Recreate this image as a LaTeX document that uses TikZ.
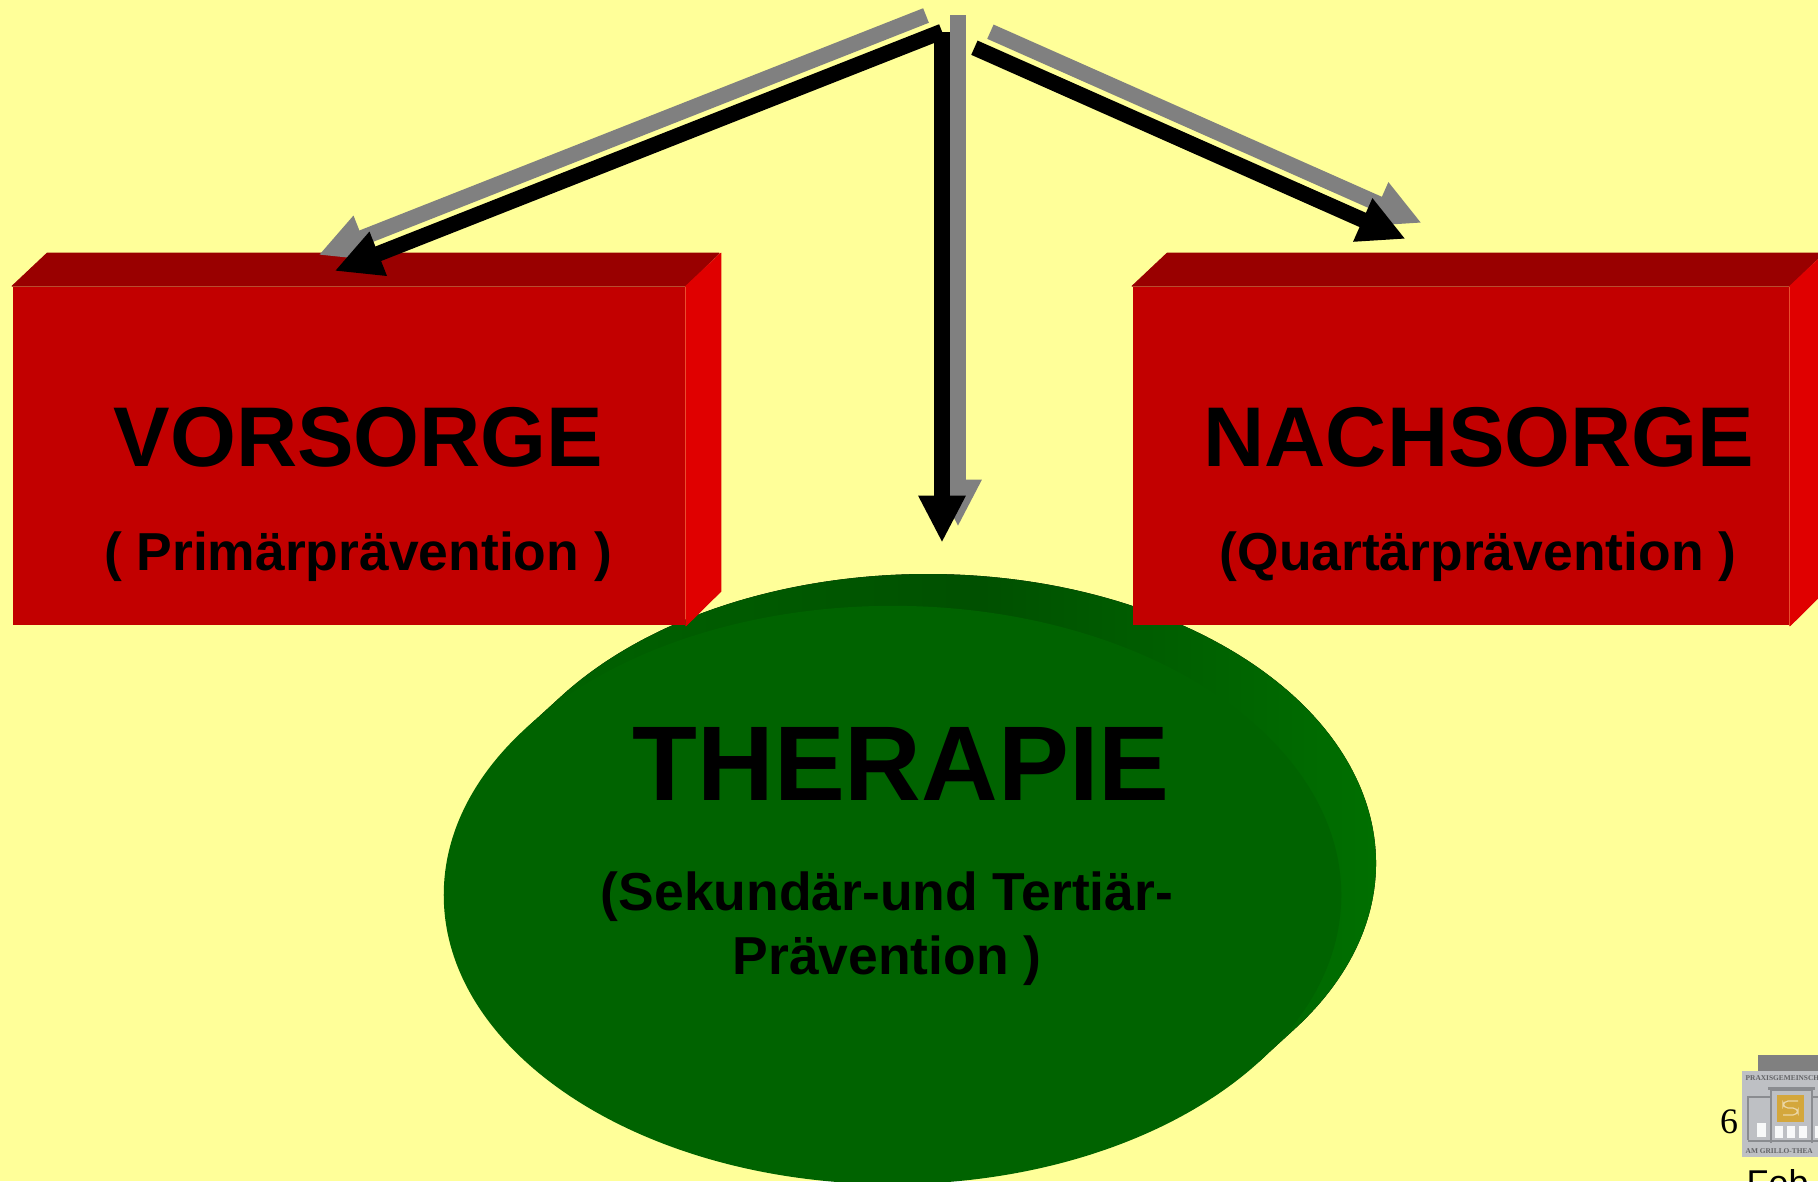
\documentclass[tikz,border=0pt]{standalone}
\usepackage{xcolor}
\usepackage{fontspec}
\setmainfont{Liberation Sans}
\newfontfamily\logofont{Liberation Serif}
\usetikzlibrary{arrows.meta,shapes.geometric}
\definecolor{paper}{HTML}{FFFF99}
\definecolor{frontred}{HTML}{C20000}
\definecolor{topred}{HTML}{990000}
\definecolor{sidered}{HTML}{E00000}
\definecolor{frontgreen}{HTML}{006300}
\definecolor{rimdark}{HTML}{005000}
\definecolor{rimlight}{HTML}{007400}
\definecolor{logogrey}{HTML}{BEC0C4}
\definecolor{logoline}{HTML}{8A8C90}
\definecolor{logogold}{HTML}{D4A73C}
\tikzset{
	frontbox/.style={fill=frontred, inner sep=0pt, minimum height=3.38cm},
	blockface/.style={line width=.1mm, line join=round},
	darrow/.style={line width=1.56mm, -{Triangle[length=4.7mm,width=4.4mm]}, black},
	garrow/.style={line width=1.56mm, -{Triangle[length=4.7mm,width=4.4mm]}, gray},
	bigtitle/.style={inner sep=0pt, anchor=base, font=\bfseries\fontsize{24.1pt}{26pt}\selectfont},
	subtitle/.style={inner sep=0pt, anchor=base, font=\bfseries\fontsize{15.2pt}{18.2pt}\selectfont},
	logotext/.style={inner sep=0pt, anchor=base west, text=logoline!70!black, font=\logofont\bfseries\fontsize{2.1pt}{2.5pt}\selectfont},
	pane/.style={fill=white!90!logogrey}
}

\begin{document}
\begin{tikzpicture}[x=0.01cm,y=-0.01cm]
	\useasboundingbox (0,0) rectangle (1818,1181);
	\clip (0,0) rectangle (1818,1181);
	\fill[paper] (0,0) rectangle (1818,1181);

	% green disc with its rim
	\coordinate (rimstart) at ({892.5+448.5*cos(215.18)},{895+289*sin(215.18)});
	\coordinate (rimend) at ({892.5+448.5*cos(35.18)},{895+289*sin(35.18)});
	\fill[left color=frontgreen, right color=rimlight, middle color=rimdark] (rimstart) -- ++(35,-32) arc [start angle=215.18, end angle=395.18, x radius=448.5, y radius=289] -- (rimend) -- cycle;
	\node (therapie) [ellipse, fill=frontgreen, inner sep=0pt, minimum width=8.97cm, minimum height=5.78cm] at (892.5,895) {};

	% red blocks
	\node (vorsorge) [frontbox, minimum width=6.72cm] at (349,456) {};
	\filldraw[topred, blockface] (vorsorge.north west) -- ++(35,-33) -- ++(672,0) -- (vorsorge.north east) -- cycle;
	\filldraw[sidered, blockface] (vorsorge.north east) -- ++(35,-33) -- ++(0,338) -- (vorsorge.south east) -- cycle;
	\node (nachsorge) [frontbox, minimum width=6.56cm] at (1461,456) {};
	\filldraw[topred, blockface] (nachsorge.north west) -- ++(35,-33) -- ++(656,0) -- (nachsorge.north east) -- cycle;
	\filldraw[sidered, blockface] (nachsorge.north east) -- ++(35,-33) -- ++(0,338) -- (nachsorge.south east) -- cycle;

	% arrows, shadow first
	\coordinate (gl) at (926,15.5);
	\coordinate (gltip) at (318.5,255);
	\coordinate (gm) at (958,15);
	\coordinate (gmtip) at (958,526.7);
	\coordinate (gr) at (990.4,31.7);
	\coordinate (grtip) at (1421.7,223);
	\coordinate (dl) at (942,31.5);
	\coordinate (dltip) at (334.5,271);
	\coordinate (dm) at (942,32);
	\coordinate (dmtip) at (942,542.7);
	\coordinate (dr) at (974.4,47.7);
	\coordinate (drtip) at (1405.7,239);
	\draw[garrow] (gl) -- (gltip);
	\draw[garrow] (gm) -- (gmtip);
	\draw[garrow] (gr) -- (grtip);
	\draw[darrow] (dl) -- (dltip);
	\draw[darrow] (dm) -- (dmtip);
	\draw[darrow] (dr) -- (drtip);

	% labels
	\node (vorsorgetitle) [bigtitle] at (358.5,466.7) {VORSORGE};
	\node (vorsorgesub) [subtitle] at (358,570) {( Primärprävention )};
	\node (nachsorgetitle) [bigtitle] at (1479,466.7) {NACHSORGE};
	\node (nachsorgesub) [subtitle] at (1478,570) {(Quartärprävention )};
	\node (therapietitle) [bigtitle, font=\bfseries\fontsize{30.2pt}{33pt}\selectfont] at (901,800.7) {THERAPIE};
	\node (therapiesub) [subtitle, anchor=center, align=center] at (887,929) {(Sekundär-und Tertiär-\\Prävention )};

	% logo in the corner
	\fill[gray] (1758,1055) rectangle (1818,1071);
	\fill[logogrey] (1742,1071) rectangle (1818,1157);
	\node (logotop) [logotext] at (1745,1080.5) {PRAXISGEMEINSCH};
	\node (logobottom) [logotext] at (1745,1153) {AM GRILLO-THEA};
	\draw[logoline, line width=.15mm] (1748,1140) -- (1748,1097) -- (1770,1097);
	\draw[logoline, line width=.15mm] (1813,1097) -- (1818,1097);
	\draw[logoline, line width=.2mm] (1771,1143) -- (1771,1090) -- (1812,1090) -- (1812,1143);
	\draw[logoline, line width=.3mm] (1768,1088) -- (1815,1088);
	\draw[logoline, line width=.25mm] (1748,1141) -- (1818,1141);
	\fill[logogold] (1777,1095) rectangle (1804,1122);
	\draw[white!55!logogold, line width=.12mm, rounded corners=.5mm] (1798,1101) -- (1783,1101) -- (1783,1108) -- (1798,1108) -- (1798,1115) -- (1783,1115);
	\fill[pane] (1757,1123) rectangle (1766,1137);
	\fill[pane] (1775,1126) rectangle (1783,1138);
	\fill[pane] (1787,1126) rectangle (1795,1138);
	\fill[pane] (1799,1126) rectangle (1807,1138);
	\fill[pane] (1815,1126) rectangle (1818,1138);
	\node (page) [inner sep=0pt, anchor=base, font=\logofont\fontsize{10.2pt}{12pt}\selectfont] at (1729,1133) {6};
	\node (month) [inner sep=0pt, anchor=base west, font=\fontsize{10.2pt}{12pt}\selectfont] at (1746,1195) {Feb};
\end{tikzpicture}
\end{document}
